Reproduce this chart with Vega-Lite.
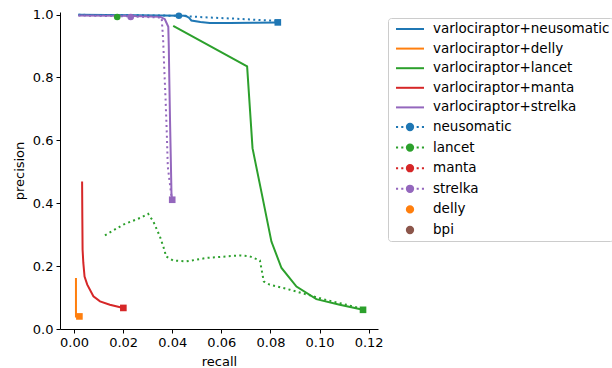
{
  "$schema": "https://vega.github.io/schema/vega-lite/v6.json",
  "autosize": {"type": "none"},
  "padding": {"left": 60, "top": 12, "right": 234, "bottom": 39},
  "width": 318,
  "height": 317,
  "config": {
    "font": "DejaVu Sans",
    "view": {"stroke": null},
    "axis": {
      "grid": false,
      "domainColor": "#000000",
      "tickColor": "#000000",
      "tickSize": 4,
      "labelFontSize": 13,
      "labelColor": "#000000",
      "labelFont": "DejaVu Sans",
      "titleFont": "DejaVu Sans",
      "titleFontSize": 13,
      "titleFontWeight": "normal",
      "titleColor": "#000000",
      "labelPadding": 3
    }
  },
  "datasets": {
    "lines": [
      {"series": "varlociraptor+neusomatic", "i": 0, "recall": 0.0018, "precision": 0.999},
      {"series": "varlociraptor+neusomatic", "i": 1, "recall": 0.025, "precision": 0.998},
      {"series": "varlociraptor+neusomatic", "i": 2, "recall": 0.0455, "precision": 0.996},
      {"series": "varlociraptor+neusomatic", "i": 3, "recall": 0.0468, "precision": 0.99},
      {"series": "varlociraptor+neusomatic", "i": 4, "recall": 0.0478, "precision": 0.981},
      {"series": "varlociraptor+neusomatic", "i": 5, "recall": 0.0515, "precision": 0.976},
      {"series": "varlociraptor+neusomatic", "i": 6, "recall": 0.0553, "precision": 0.973},
      {"series": "varlociraptor+neusomatic", "i": 7, "recall": 0.0635, "precision": 0.973},
      {"series": "varlociraptor+neusomatic", "i": 8, "recall": 0.0728, "precision": 0.974},
      {"series": "varlociraptor+neusomatic", "i": 9, "recall": 0.083, "precision": 0.975},
      {"series": "varlociraptor+delly", "i": 0, "recall": 0.0008, "precision": 0.162},
      {"series": "varlociraptor+delly", "i": 1, "recall": 0.0008, "precision": 0.04},
      {"series": "varlociraptor+delly", "i": 2, "recall": 0.0022, "precision": 0.04},
      {"series": "varlociraptor+lancet", "i": 0, "recall": 0.0404, "precision": 0.964},
      {"series": "varlociraptor+lancet", "i": 1, "recall": 0.0705, "precision": 0.835},
      {"series": "varlociraptor+lancet", "i": 2, "recall": 0.0727, "precision": 0.575},
      {"series": "varlociraptor+lancet", "i": 3, "recall": 0.0764, "precision": 0.433},
      {"series": "varlociraptor+lancet", "i": 4, "recall": 0.0804, "precision": 0.278},
      {"series": "varlociraptor+lancet", "i": 5, "recall": 0.0845, "precision": 0.194},
      {"series": "varlociraptor+lancet", "i": 6, "recall": 0.0906, "precision": 0.135},
      {"series": "varlociraptor+lancet", "i": 7, "recall": 0.0987, "precision": 0.095},
      {"series": "varlociraptor+lancet", "i": 8, "recall": 0.1082, "precision": 0.077},
      {"series": "varlociraptor+lancet", "i": 9, "recall": 0.1177, "precision": 0.061},
      {"series": "varlociraptor+manta", "i": 0, "recall": 0.0033, "precision": 0.469},
      {"series": "varlociraptor+manta", "i": 1, "recall": 0.0034, "precision": 0.35},
      {"series": "varlociraptor+manta", "i": 2, "recall": 0.0035, "precision": 0.252},
      {"series": "varlociraptor+manta", "i": 3, "recall": 0.0038, "precision": 0.21},
      {"series": "varlociraptor+manta", "i": 4, "recall": 0.0043, "precision": 0.167},
      {"series": "varlociraptor+manta", "i": 5, "recall": 0.0054, "precision": 0.141},
      {"series": "varlociraptor+manta", "i": 6, "recall": 0.0079, "precision": 0.104},
      {"series": "varlociraptor+manta", "i": 7, "recall": 0.0106, "precision": 0.088},
      {"series": "varlociraptor+manta", "i": 8, "recall": 0.0146, "precision": 0.077},
      {"series": "varlociraptor+manta", "i": 9, "recall": 0.0201, "precision": 0.067},
      {"series": "varlociraptor+strelka", "i": 0, "recall": 0.0018, "precision": 0.997},
      {"series": "varlociraptor+strelka", "i": 1, "recall": 0.02, "precision": 0.996},
      {"series": "varlociraptor+strelka", "i": 2, "recall": 0.035, "precision": 0.993},
      {"series": "varlociraptor+strelka", "i": 3, "recall": 0.037, "precision": 0.985},
      {"series": "varlociraptor+strelka", "i": 4, "recall": 0.0384, "precision": 0.961},
      {"series": "varlociraptor+strelka", "i": 5, "recall": 0.0386, "precision": 0.9},
      {"series": "varlociraptor+strelka", "i": 6, "recall": 0.0388, "precision": 0.8},
      {"series": "varlociraptor+strelka", "i": 7, "recall": 0.0391, "precision": 0.665},
      {"series": "varlociraptor+strelka", "i": 8, "recall": 0.0394, "precision": 0.55},
      {"series": "varlociraptor+strelka", "i": 9, "recall": 0.0397, "precision": 0.427},
      {"series": "varlociraptor+strelka", "i": 10, "recall": 0.04, "precision": 0.411},
      {"series": "neusomatic", "i": 0, "recall": 0.0018, "precision": 0.999},
      {"series": "neusomatic", "i": 1, "recall": 0.02, "precision": 0.998},
      {"series": "neusomatic", "i": 2, "recall": 0.0427, "precision": 0.996},
      {"series": "neusomatic", "i": 3, "recall": 0.0513, "precision": 0.992},
      {"series": "neusomatic", "i": 4, "recall": 0.065, "precision": 0.987},
      {"series": "neusomatic", "i": 5, "recall": 0.0797, "precision": 0.981},
      {"series": "neusomatic", "i": 6, "recall": 0.0822, "precision": 0.98},
      {"series": "lancet", "i": 0, "recall": 0.0126, "precision": 0.298},
      {"series": "lancet", "i": 1, "recall": 0.0201, "precision": 0.332},
      {"series": "lancet", "i": 2, "recall": 0.0269, "precision": 0.353},
      {"series": "lancet", "i": 3, "recall": 0.0302, "precision": 0.366},
      {"series": "lancet", "i": 4, "recall": 0.0323, "precision": 0.342},
      {"series": "lancet", "i": 5, "recall": 0.035, "precision": 0.294},
      {"series": "lancet", "i": 6, "recall": 0.037, "precision": 0.247},
      {"series": "lancet", "i": 7, "recall": 0.0374, "precision": 0.231},
      {"series": "lancet", "i": 8, "recall": 0.0404, "precision": 0.218},
      {"series": "lancet", "i": 9, "recall": 0.0458, "precision": 0.215},
      {"series": "lancet", "i": 10, "recall": 0.054, "precision": 0.226},
      {"series": "lancet", "i": 11, "recall": 0.0675, "precision": 0.234},
      {"series": "lancet", "i": 12, "recall": 0.0716, "precision": 0.231},
      {"series": "lancet", "i": 13, "recall": 0.0757, "precision": 0.218},
      {"series": "lancet", "i": 14, "recall": 0.0773, "precision": 0.151},
      {"series": "lancet", "i": 15, "recall": 0.0797, "precision": 0.141},
      {"series": "lancet", "i": 16, "recall": 0.0879, "precision": 0.125},
      {"series": "lancet", "i": 17, "recall": 0.1014, "precision": 0.095},
      {"series": "lancet", "i": 18, "recall": 0.111, "precision": 0.077},
      {"series": "lancet", "i": 19, "recall": 0.1176, "precision": 0.064},
      {"series": "strelka", "i": 0, "recall": 0.0018, "precision": 0.997},
      {"series": "strelka", "i": 1, "recall": 0.0231, "precision": 0.994},
      {"series": "strelka", "i": 2, "recall": 0.0357, "precision": 0.99},
      {"series": "strelka", "i": 3, "recall": 0.0363, "precision": 0.92},
      {"series": "strelka", "i": 4, "recall": 0.0368, "precision": 0.82},
      {"series": "strelka", "i": 5, "recall": 0.0373, "precision": 0.729},
      {"series": "strelka", "i": 6, "recall": 0.0378, "precision": 0.62},
      {"series": "strelka", "i": 7, "recall": 0.0382, "precision": 0.516},
      {"series": "strelka", "i": 8, "recall": 0.0395, "precision": 0.433},
      {"series": "strelka", "i": 9, "recall": 0.04, "precision": 0.411}
    ],
    "ends": [
      {"series": "varlociraptor+neusomatic", "recall": 0.083, "precision": 0.975},
      {"series": "varlociraptor+delly", "recall": 0.0022, "precision": 0.04},
      {"series": "varlociraptor+lancet", "recall": 0.1177, "precision": 0.061},
      {"series": "varlociraptor+manta", "recall": 0.0201, "precision": 0.067},
      {"series": "varlociraptor+strelka", "recall": 0.04, "precision": 0.411}
    ],
    "calls": [
      {"series": "neusomatic", "recall": 0.0427, "precision": 0.996},
      {"series": "lancet", "recall": 0.0176, "precision": 0.992},
      {"series": "strelka", "recall": 0.0231, "precision": 0.992}
    ],
    "keys": [
      {"series": "bpi", "recall": null, "precision": null}
    ]
  },
  "encoding": {
    "x": {
      "field": "recall", "type": "quantitative",
      "scale": {"domain": [-0.0057, 0.1238], "nice": false, "zero": false},
      "axis": {"values": [0, 0.02, 0.04, 0.06, 0.08, 0.1, 0.12], "format": ".2f", "title": "recall", "titlePadding": 6}
    },
    "y": {
      "field": "precision", "type": "quantitative",
      "scale": {"domain": [0, 1.008], "nice": false, "zero": false},
      "axis": {"values": [0, 0.2, 0.4, 0.6, 0.8, 1.0], "format": ".1f", "title": "precision", "titlePadding": 6}
    }
  },
  "layer": [
    {
      "data": {"name": "lines"},
      "transform": [{"filter": "indexof(datum.series, 'varlociraptor') === 0"}],
      "mark": {"type": "line", "strokeWidth": 2, "clip": true},
      "encoding": {
        "order": {"field": "i", "type": "quantitative"},
        "stroke": {
          "field": "series", "type": "nominal", "legend": null,
          "scale": {
            "domain": ["varlociraptor+neusomatic", "varlociraptor+delly", "varlociraptor+lancet", "varlociraptor+manta", "varlociraptor+strelka", "neusomatic", "lancet", "strelka"],
            "range": ["#1f77b4", "#ff7f0e", "#2ca02c", "#d62728", "#9467bd", "#1f77b4", "#2ca02c", "#9467bd"]
          }
        }
      }
    },
    {
      "data": {"name": "lines"},
      "transform": [{"filter": "indexof(datum.series, 'varlociraptor') !== 0"}],
      "mark": {"type": "line", "strokeWidth": 2, "strokeDash": [2, 3.3], "clip": true},
      "encoding": {
        "order": {"field": "i", "type": "quantitative"},
        "stroke": {"field": "series", "type": "nominal", "legend": null}
      }
    },
    {
      "data": {"name": "ends"},
      "mark": {"type": "point", "shape": "square", "filled": true, "opacity": 1, "size": 44},
      "encoding": {
        "fill": {
          "field": "series", "type": "nominal", "legend": null,
          "scale": {
            "domain": ["varlociraptor+neusomatic", "varlociraptor+delly", "varlociraptor+lancet", "varlociraptor+manta", "varlociraptor+strelka", "neusomatic", "lancet", "strelka"],
            "range": ["#1f77b4", "#ff7f0e", "#2ca02c", "#d62728", "#9467bd", "#1f77b4", "#2ca02c", "#9467bd"]
          }
        }
      }
    },
    {
      "data": {"name": "calls"},
      "mark": {"type": "point", "shape": "circle", "filled": true, "opacity": 1, "size": 44},
      "encoding": {
        "fill": {"field": "series", "type": "nominal", "legend": null}
      }
    },
    {
      "data": {"name": "keys"},
      "mark": {"type": "point", "filled": true, "opacity": 1},
      "encoding": {
        "color": {
          "field": "series", "type": "nominal",
          "scale": {
            "domain": ["varlociraptor+neusomatic", "varlociraptor+delly", "varlociraptor+lancet", "varlociraptor+manta", "varlociraptor+strelka", "neusomatic", "lancet", "manta", "strelka", "delly", "bpi"],
            "range": ["#1f77b4", "#ff7f0e", "#2ca02c", "#d62728", "#9467bd", "#1f77b4", "#2ca02c", "#d62728", "#9467bd", "#ff7f0e", "#8c564b"]
          },
          "legend": {
            "orient": "none",
            "legendX": 328,
            "legendY": 6,
            "title": null,
            "labelFontSize": 13.5,
            "labelFont": "DejaVu Sans",
            "labelColor": "#000000",
            "labelLimit": 400,
            "labelOffset": 15,
            "symbolOffset": 11,
            "symbolSize": 196,
            "symbolStrokeWidth": 2,
            "rowPadding": 4.6,
            "padding": 3,
            "fillColor": "#ffffff",
            "strokeColor": "#cccccc",
            "cornerRadius": 3,
            "symbolOpacity": 1,
            "encode": {
              "symbols": {
                "update": {
                  "stroke": {"signal": "scale('color', datum.value)"},
                  "strokeWidth": {"value": 2}
                }
              }
            }
          }
        },
        "shape": {
          "field": "series", "type": "nominal",
          "scale": {
            "domain": ["varlociraptor+neusomatic", "varlociraptor+delly", "varlociraptor+lancet", "varlociraptor+manta", "varlociraptor+strelka", "neusomatic", "lancet", "manta", "strelka", "delly", "bpi"],
            "range": [
              "M-2,0H2", "M-2,0H2", "M-2,0H2", "M-2,0H2", "M-2,0H2",
              "M-2,0H-1.7M-1.25,0H-0.95M-0.45,0A0.45,0.45,0,1,1,0.45,0A0.45,0.45,0,1,1,-0.45,0ZM0.95,0H1.25M1.7,0H2",
              "M-2,0H-1.7M-1.25,0H-0.95M-0.45,0A0.45,0.45,0,1,1,0.45,0A0.45,0.45,0,1,1,-0.45,0ZM0.95,0H1.25M1.7,0H2",
              "M-2,0H-1.7M-1.25,0H-0.95M-0.45,0A0.45,0.45,0,1,1,0.45,0A0.45,0.45,0,1,1,-0.45,0ZM0.95,0H1.25M1.7,0H2",
              "M-2,0H-1.7M-1.25,0H-0.95M-0.45,0A0.45,0.45,0,1,1,0.45,0A0.45,0.45,0,1,1,-0.45,0ZM0.95,0H1.25M1.7,0H2",
              "M-0.45,0A0.45,0.45,0,1,1,0.45,0A0.45,0.45,0,1,1,-0.45,0Z",
              "M-0.45,0A0.45,0.45,0,1,1,0.45,0A0.45,0.45,0,1,1,-0.45,0Z"
            ]
          }
        }
      }
    }
  ]
}
